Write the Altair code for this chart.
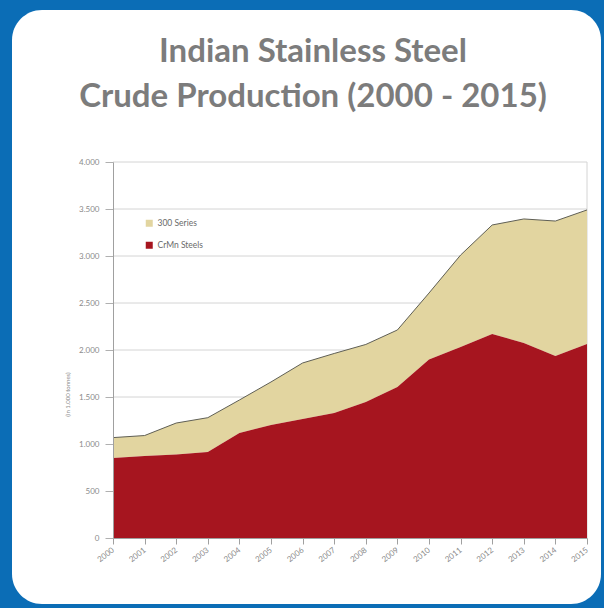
import altair as alt
import pandas as pd

years = list(range(2000, 2016))
crmn = [850, 872, 888, 915, 1117, 1202, 1266, 1330, 1447, 1606, 1900, 2032, 2170, 2074, 1936, 2064]
s300 = [218, 218, 335, 365, 351, 458, 596, 633, 612, 607, 706, 978, 1160, 1320, 1436, 1426]
series_names = ["300 Series", "CrMn Steels"]
series_colors = ["#e2d5a0", "#a6151f"]
y_ticks = list(range(0, 4001, 500))

rows = []
for y, a, b in zip(years, s300, crmn):
    rows.append({"year": y, "series": "300 Series", "value": a, "ord": 1})
    rows.append({"year": y, "series": "CrMn Steels", "value": b, "ord": 0})
df = pd.DataFrame(rows)
grid_df = pd.DataFrame({"value": y_ticks})
edge_df = pd.DataFrame({"year": [2015], "value": [0], "hi": [4000]})

W, H = 474, 376
PL, PT = 113, 162

xscale = alt.Scale(domain=[2000, 2015], nice=False)
yscale = alt.Scale(domain=[0, 4000], nice=False)

xaxis = alt.Axis(values=years, format="d", labelAngle=-38, labelAlign="right",
                 labelBaseline="middle", labelFontSize=8, labelColor="#8a8a8a",
                 labelFont="Lato", tickSize=6, tickColor="#a0a0a0",
                 domainColor="#a0a0a0", grid=False, title=None, labelPadding=5,
                 labelOverlap=False, zindex=1)
yaxis = alt.Axis(values=y_ticks,
                 labelExpr="replace(format(datum.value, ','), ',', '.')",
                 labelFontSize=8, labelColor="#8a8a8a", labelFont="Lato",
                 tickSize=8, tickColor="#b0b0b0", domainColor="#a0a0a0",
                 grid=False, labelPadding=6, zindex=1,
                 title="(in 1.000 tonnes)", titleFontSize=6,
                 titleFont="Lato", titleFontWeight="normal", titleColor="#8a8a8a",
                 titleX=-43, titleY=232, titleAngle=-90)

panel = alt.Chart(pd.DataFrame({"p": [0]})).mark_rect(
    color="white", cornerRadius=30
).encode(
    x=alt.value(12 - PL), x2=alt.value(601 - PL),
    y=alt.value(10 - PT), y2=alt.value(604 - PT)
)

grid = alt.Chart(grid_df).mark_rule(color="#d4d4d4", strokeWidth=1).encode(
    y=alt.Y("value:Q", scale=yscale, axis=yaxis)
)

edge = alt.Chart(edge_df).mark_rule(color="#d4d4d4", strokeWidth=1).encode(
    x=alt.X("year:Q", scale=xscale, axis=xaxis),
    y=alt.Y("value:Q", scale=yscale, axis=yaxis),
    y2="hi:Q"
)

area = alt.Chart(df).mark_area(opacity=1).encode(
    x=alt.X("year:Q", scale=xscale, axis=xaxis),
    y=alt.Y("value:Q", stack="zero", scale=yscale, axis=yaxis),
    color=alt.Color("series:N", scale=alt.Scale(domain=series_names, range=series_colors),
                    legend=alt.Legend(title=None, orient="none", legendX=32, legendY=57,
                                      symbolType="square", symbolSize=49,
                                      labelFontSize=8.5, labelFont="Lato",
                                      labelColor="#6a6a6a", rowPadding=13,
                                      symbolStrokeWidth=0, zindex=1)),
    order=alt.Order("ord:Q")
)

top = alt.Chart(df).mark_line(color="#5f5f55", strokeWidth=1).encode(
    x=alt.X("year:Q", scale=xscale, axis=xaxis),
    y=alt.Y("sum(value):Q", scale=yscale, axis=yaxis)
)

chart = alt.layer(panel, grid, edge, area, top).properties(
    width=W, height=H,
    padding={"left": PL, "top": PT, "right": 604 - PL - W, "bottom": 608 - PT - H},
    autosize="none",
    title=alt.TitleParams(["Indian Stainless Steel", "Crude Production (2000 - 2015)"],
                          font="Lato", fontSize=33, fontWeight="bold", color="#7c7c7c",
                          anchor="middle", dx=-37, dy=104, lineHeight=45, offset=0,
                          zindex=1, frame="group")
).configure(background="#0b6db6").configure_view(stroke=None)

chart.save("out.html", embed_options={"renderer": "svg", "actions": False})
